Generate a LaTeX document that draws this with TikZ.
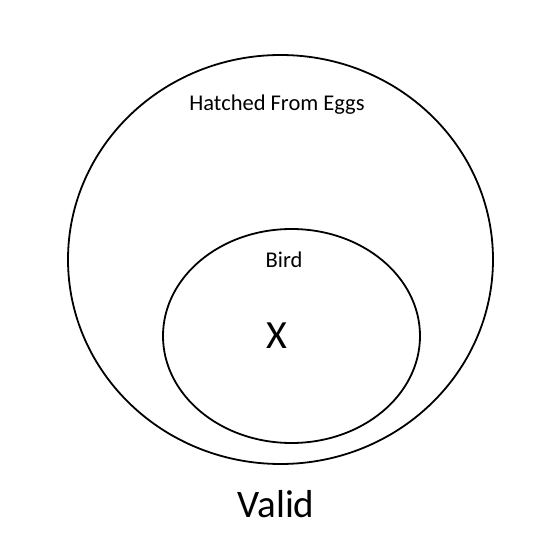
\documentclass[tikz,border=0pt]{standalone}
\usepackage{fontspec}
\setmainfont{Carlito}
\begin{document}
\begin{tikzpicture}[x=1pt,y=-1pt,
	setline/.style={line width=1.8pt},
	setlabel/.style={anchor=base,inner sep=0pt,font=\fontsize{22.5}{27}\selectfont},
	biglabel/.style={anchor=base,inner sep=0pt,font=\fontsize{40}{48}\selectfont}]
	
	\useasboundingbox (0,0) rectangle (550,538);
	
	\draw[setline] (280.5,259.5) ellipse [x radius=212.5,y radius=204.5];
	\node[setlabel] (eggs) at(277,110) {Hatched From Eggs};
	
	\draw[setline] (291.5,336) ellipse [x radius=128.5,y radius=107];
	\node[setlabel] (bird) at(284,267) {Bird};
	\node[biglabel] (x) at(277,348) {X};
	
	\node[biglabel,font=\fontsize{39}{47}\selectfont] (valid) at(276,517) {Valid};
	
\end{tikzpicture}
\end{document}
